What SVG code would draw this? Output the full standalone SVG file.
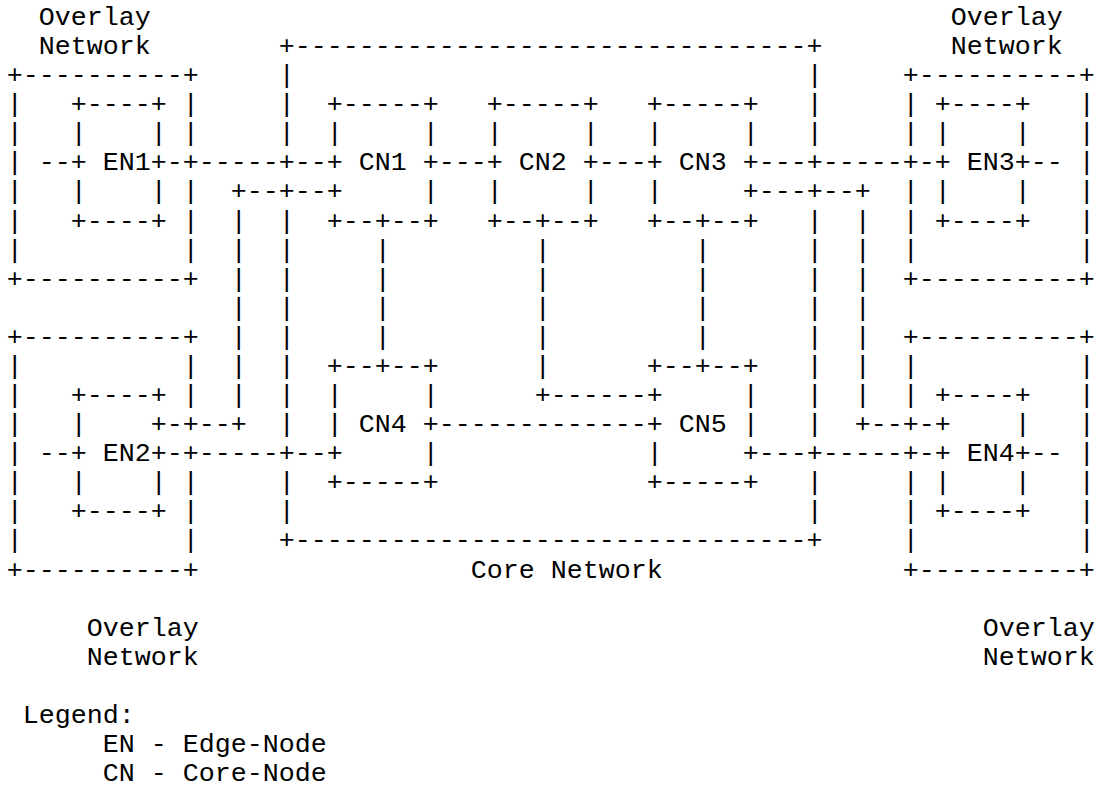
<svg xmlns="http://www.w3.org/2000/svg" width="1100" height="793" viewBox="0 0 1100 793">
<style>
text{font-family:"Liberation Mono","Courier New",monospace;font-size:26.667px;fill:#000;white-space:pre}
</style>
<rect x="0" y="0" width="1100" height="793" fill="#fff"/>
<g transform="translate(6.7,25)">
<g id="overlay-nw1">
<text x="32" y="0">Overlay</text>
<text x="32" y="29.08">Network</text>
<text x="0" y="58.16">+----------+</text>
<text x="0 0 0 0 0 0" y="87.24 116.32 145.4 174.48 203.56 232.64">||||||</text>
<text x="176 176" y="87.24 116.32">||</text>
<text x="176 176 176" y="174.48 203.56 232.64">|||</text>
<text x="0" y="261.72">+----------+</text>
</g>
<g id="en1">
<text x="64" y="87.24">+----+</text>
<text x="64 144" y="116.32 116.32">||</text>
<text x="64" y="145.4">+ EN1+</text>
<text x="64 144" y="174.48 174.48">||</text>
<text x="64" y="203.56">+----+</text>
</g>
<g id="overlay-nw2">
<text x="944" y="0">Overlay</text>
<text x="944" y="29.08">Network</text>
<text x="896" y="58.16">+----------+</text>
<text x="896 896" y="87.24 116.32">||</text>
<text x="896 896 896" y="174.48 203.56 232.64">|||</text>
<text x="1072 1072 1072 1072 1072 1072" y="87.24 116.32 145.4 174.48 203.56 232.64">||||||</text>
<text x="896" y="261.72">+----------+</text>
</g>
<g id="en3">
<text x="928" y="87.24">+----+</text>
<text x="928 1008" y="116.32 116.32">||</text>
<text x="928" y="145.4">+ EN3+</text>
<text x="928 1008" y="174.48 174.48">||</text>
<text x="928" y="203.56">+----+</text>
</g>
<g id="overlay-nw3">
<text x="0" y="319.88">+----------+</text>
<text x="0 0 0 0 0 0 0" y="348.96 378.04 407.12 436.2 465.28 494.36 523.44">|||||||</text>
<text x="176 176" y="348.96 378.04">||</text>
<text x="176 176 176" y="465.28 494.36 523.44">|||</text>
<text x="0" y="552.52">+----------+</text>
<text x="80" y="610.68">Overlay</text>
<text x="80" y="639.76">Network</text>
</g>
<g id="en2">
<text x="64" y="378.04">+----+</text>
<text x="64 144" y="407.12 407.12">|+</text>
<text x="64" y="436.2">+ EN2+</text>
<text x="64 144" y="465.28 465.28">||</text>
<text x="64" y="494.36">+----+</text>
</g>
<g id="overlay-nw4">
<text x="896" y="319.88">+----------+</text>
<text x="896 896" y="348.96 378.04">||</text>
<text x="896 896 896" y="465.28 494.36 523.44">|||</text>
<text x="1072 1072 1072 1072 1072 1072 1072" y="348.96 378.04 407.12 436.2 465.28 494.36 523.44">|||||||</text>
<text x="896" y="552.52">+----------+</text>
<text x="976" y="610.68">Overlay</text>
<text x="976" y="639.76">Network</text>
</g>
<g id="en4">
<text x="928" y="378.04">+----+</text>
<text x="928 1008" y="407.12 407.12">+|</text>
<text x="928" y="436.2">+ EN4+</text>
<text x="928 1008" y="465.28 465.28">||</text>
<text x="928" y="494.36">+----+</text>
</g>
<g id="core">
<text x="272" y="29.08">+--------------------------------+</text>
<text x="272 272 272" y="58.16 87.24 116.32">|||</text>
<text x="272 272 272 272 272 272 272 272" y="203.56 232.64 261.72 290.8 319.88 348.96 378.04 407.12">||||||||</text>
<text x="272 272" y="465.28 494.36">||</text>
<text x="800 800 800" y="58.16 87.24 116.32">|||</text>
<text x="800 800 800 800 800 800 800 800" y="203.56 232.64 261.72 290.8 319.88 348.96 378.04 407.12">||||||||</text>
<text x="800 800" y="465.28 494.36">||</text>
<text x="272" y="523.44">+--------------------------------+</text>
<text x="464" y="552.52">Core Network</text>
</g>
<g id="cn1">
<text x="320" y="87.24">+-----+</text>
<text x="320 416" y="116.32 116.32">||</text>
<text x="320" y="145.4">+ CN1 +</text>
<text x="320 416" y="174.48 174.48">+|</text>
<text x="320" y="203.56">+--+--+</text>
</g>
<g id="cn2">
<text x="480" y="87.24">+-----+</text>
<text x="480 576" y="116.32 116.32">||</text>
<text x="480" y="145.4">+ CN2 +</text>
<text x="480 576" y="174.48 174.48">||</text>
<text x="480" y="203.56">+--+--+</text>
</g>
<g id="cn3">
<text x="640" y="87.24">+-----+</text>
<text x="640 736" y="116.32 116.32">||</text>
<text x="640" y="145.4">+ CN3 +</text>
<text x="640 736" y="174.48 174.48">|+</text>
<text x="640" y="203.56">+--+--+</text>
</g>
<g id="cn4">
<text x="320" y="348.96">+--+--+</text>
<text x="320 416" y="378.04 378.04">||</text>
<text x="320" y="407.12">| CN4 +</text>
<text x="320 416" y="436.2 436.2">+|</text>
<text x="320" y="465.28">+-----+</text>
</g>
<g id="cn5">
<text x="640" y="348.96">+--+--+</text>
<text x="640 736" y="378.04 378.04">+|</text>
<text x="640" y="407.12">+ CN5 |</text>
<text x="640 736" y="436.2 436.2">|+</text>
<text x="640" y="465.28">+-----+</text>
</g>
<g id="connectors">
<text x="32" y="145.4">--</text>
<text x="160" y="145.4">-+-----+--</text>
<text x="432" y="145.4">---</text>
<text x="592" y="145.4">---</text>
<text x="752" y="145.4">---+-----+-</text>
<text x="1024" y="145.4">--</text>
<text x="224" y="174.48">+--+--</text>
<text x="752" y="174.48">---+--+</text>
<text x="224 224 224 224 224 224 224" y="203.56 232.64 261.72 290.8 319.88 348.96 378.04">|||||||</text>
<text x="160" y="407.12">-+--+</text>
<text x="848 848 848 848 848 848 848" y="203.56 232.64 261.72 290.8 319.88 348.96 378.04">|||||||</text>
<text x="848" y="407.12">+--+-</text>
<text x="368 368 368 368" y="232.64 261.72 290.8 319.88">||||</text>
<text x="528 528 528 528 528" y="232.64 261.72 290.8 319.88 348.96">|||||</text>
<text x="528" y="378.04">+------</text>
<text x="688 688 688 688" y="232.64 261.72 290.8 319.88">||||</text>
<text x="432" y="407.12">-------------</text>
<text x="32" y="436.2">--</text>
<text x="160" y="436.2">-+-----+--</text>
<text x="752" y="436.2">---+-----+-</text>
<text x="1024" y="436.2">--</text>
</g>
<g id="legend">
<text x="16" y="697.92">Legend:</text>
<text x="96" y="727">EN - Edge-Node</text>
<text x="96" y="756.08">CN - Core-Node</text>
</g>
</g>
</svg>
